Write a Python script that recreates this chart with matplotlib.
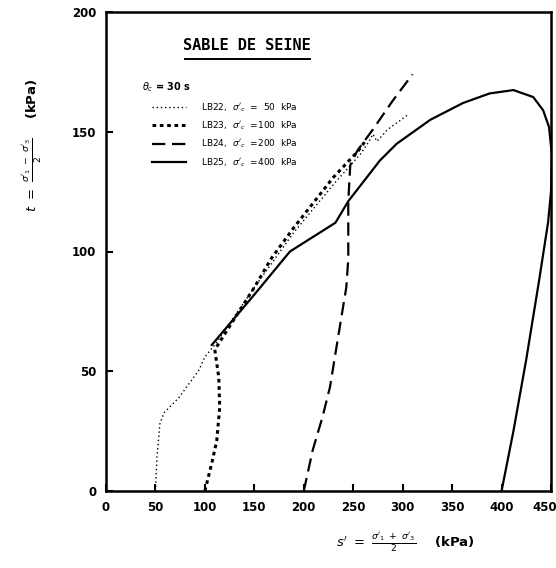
import matplotlib
matplotlib.use("Agg")
import matplotlib.pyplot as plt
from matplotlib.transforms import ScaledTranslation

# ---- data (s' , t) in kPa ----
lb22_s = [50, 51.5, 54.5, 58.6, 73.7, 94, 100, 110, 150, 190, 230, 258, 266, 270, 274, 285, 305]
lb22_t = [0, 14, 28, 32.6, 39, 50.5, 56, 61, 85, 108, 128, 141, 146, 149, 146, 151, 157]

lb23_s = [100, 107, 112, 115, 114, 110, 130, 150, 167, 190, 230, 255, 262]
lb23_t = [0, 11.7, 21, 35, 47.6, 59, 72, 85, 97, 110, 131, 142, 146]

lb24_s = [200, 209, 219, 226.5, 235, 243, 245, 245, 247, 254, 270, 290, 310]
lb24_t = [0, 17, 31, 43.4, 65, 85, 97, 121, 136, 142, 151, 163, 174]

lb25_s = [400, 412, 425, 438, 447, 450, 451, 448, 442, 432, 412, 388, 361, 328, 294, 277,
          245, 232, 186, 150, 107]
lb25_t = [0, 25, 55, 88, 112, 125, 140, 152, 159, 164.5, 167.4, 166, 162, 155, 145, 138,
          121, 112, 100, 82, 61]

series_labels = [r"LB22,  $\sigma'_c$  =  50  kPa",
                 r"LB23,  $\sigma'_c$  =100  kPa",
                 r"LB24,  $\sigma'_c$  =200  kPa",
                 r"LB25,  $\sigma'_c$  =400  kPa"]
x_ticks = [0, 50, 100, 150, 200, 250, 300, 350, 400, 450]
y_ticks = [0, 50, 100, 150, 200]
title_text = "SABLE DE SEINE"
legend_title = r"$\theta_c$ = 30 s"

# ---- figure ----
fig = plt.figure(figsize=(5.56, 5.68), dpi=100)
ax = fig.add_axes([106/556, 1-491/568, 445/556, 479/568])

ax.plot(lb22_s, lb22_t, color="black", lw=1.0, ls=(0, (1, 2)), label=series_labels[0])
ax.plot(lb23_s, lb23_t, color="black", lw=2.2, ls=(0, (1.2, 1.2)), label=series_labels[1])
ax.plot(lb24_s, lb24_t, color="black", lw=1.6, ls=(0, (6, 3)), label=series_labels[2])
ax.plot(lb25_s, lb25_t, color="black", lw=1.6, ls="-", label=series_labels[3])

ax.set_xlim(0, 450)
ax.set_ylim(0, 200)
ax.set_xticks(x_ticks)
ax.set_yticks(y_ticks)
ax.tick_params(direction="in", length=5, width=1.5, top=False, right=False,
               labelsize=8.5, pad=7)
for lab in ax.get_xticklabels() + ax.get_yticklabels():
    lab.set_fontweight("bold")
last = ax.get_xticklabels()[-1]
last.set_transform(last.get_transform() + ScaledTranslation(-6/100, 0, fig.dpi_scale_trans))
for sp in ax.spines.values():
    sp.set_linewidth(1.8)

# title with underline
ax.text(142, 186, title_text, ha="center", va="center", fontsize=11,
        fontweight="bold", family="DejaVu Sans Mono")
ax.plot([80, 206], [180.5, 180.5], color="black", lw=1.4)

# legend
ax.text((142-106)/445, (491-87)/479, legend_title, transform=ax.transAxes,
        ha="left", va="center", fontsize=7, fontweight="bold")
leg = ax.legend(loc="upper left", bbox_to_anchor=((152-106)/445, (491-101)/479),
                frameon=False, fontsize=6.5, handlelength=3.8, handletextpad=1.6,
                labelspacing=0.65, borderaxespad=0, borderpad=0)

# axis labels
fig.text(32/556, 1-145/568, r"$t\ =\ \frac{\sigma'_1\ -\ \sigma'_3}{2}$    (kPa)",
         rotation=90, ha="center", va="center", fontsize=9.5, fontweight="bold")
fig.text(405/556, 1-542/568, r"$s'\ =\ \frac{\sigma'_1\ +\ \sigma'_3}{2}$    (kPa)",
         ha="center", va="center", fontsize=9.5, fontweight="bold")

fig.savefig("out.png", dpi=100)
